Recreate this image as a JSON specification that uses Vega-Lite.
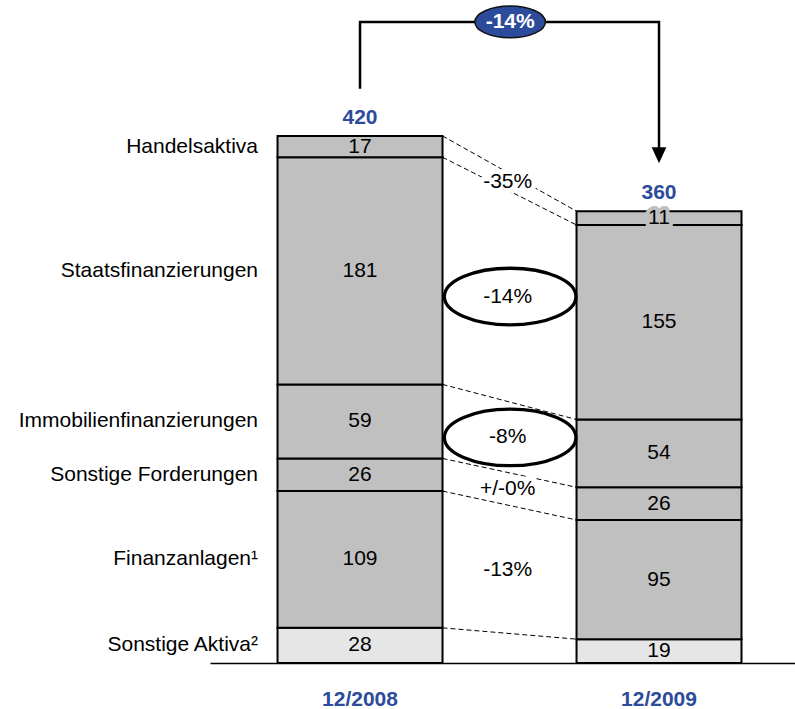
{
  "$schema": "https://vega.github.io/schema/vega-lite/v6.json",
  "width": 585,
  "height": 659,
  "autosize": {"type": "none"},
  "padding": {"left": 210, "top": 4, "right": 0, "bottom": 46},
  "background": "white",
  "config": {"view": {"stroke": null}, "font": "Liberation Sans", "text": {"font": "Liberation Sans", "fontSize": 21}},
  "datasets": {
    "bars": [
      {"cat": "Sonstige Aktiva²", "year": "12/2008", "value": 28, "order": 1, "change": ""},
      {"cat": "Finanzanlagen¹", "year": "12/2008", "value": 109, "order": 2, "change": "-13%"},
      {"cat": "Sonstige Forderungen", "year": "12/2008", "value": 26, "order": 3, "change": "+/-0%"},
      {"cat": "Immobilienfinanzierungen", "year": "12/2008", "value": 59, "order": 4, "change": "-8%"},
      {"cat": "Staatsfinanzierungen", "year": "12/2008", "value": 181, "order": 5, "change": "-14%"},
      {"cat": "Handelsaktiva", "year": "12/2008", "value": 17, "order": 6, "change": "-35%"},
      {"cat": "Sonstige Aktiva²", "year": "12/2009", "value": 19, "order": 1, "change": ""},
      {"cat": "Finanzanlagen¹", "year": "12/2009", "value": 95, "order": 2, "change": "-13%"},
      {"cat": "Sonstige Forderungen", "year": "12/2009", "value": 26, "order": 3, "change": "+/-0%"},
      {"cat": "Immobilienfinanzierungen", "year": "12/2009", "value": 54, "order": 4, "change": "-8%"},
      {"cat": "Staatsfinanzierungen", "year": "12/2009", "value": 155, "order": 5, "change": "-14%"},
      {"cat": "Handelsaktiva", "year": "12/2009", "value": 11, "order": 6, "change": "-35%"}
    ],
    "bracket": [
      {"year": "12/2008", "y": 457.6, "o": 1},
      {"year": "12/2008", "y": 510.8, "o": 2},
      {"year": "12/2009", "y": 510.8, "o": 3},
      {"year": "12/2009", "y": 404.5, "o": 4}
    ],
    "total": [{"label": "-14%", "y": 510.8}]
  },
  "layer": [
    {
      "data": {"name": "bars"},
      "transform": [
        {"stack": "value", "groupby": ["year"], "sort": [{"field": "order", "order": "ascending"}], "as": ["v0", "v1"]}
      ],
      "mark": {"type": "bar", "stroke": "black", "strokeWidth": 2},
      "encoding": {
        "x": {
          "field": "year", "type": "nominal",
          "scale": {"type": "band", "domain": ["12/2008", "12/2009"], "paddingInner": 0.4482, "paddingOuter": 0.2024, "align": 0.558, "round": false},
          "axis": {"title": null, "domain": true, "domainColor": "black", "domainWidth": 1.5, "ticks": false, "tickSize": 0, "labelPadding": 36, "labelBaseline": "middle", "labelFont": "Liberation Sans", "labelFontSize": 21, "labelFontWeight": "bold", "labelColor": "#2D4B9B", "labelAngle": 0, "grid": false}
        },
        "y": {"field": "v1", "type": "quantitative", "scale": {"domain": [0, 525.1], "nice": false, "zero": true}, "axis": null},
        "y2": {"field": "v0"},
        "fill": {
          "field": "cat", "type": "nominal",
          "scale": {"domain": ["Sonstige Aktiva²", "Finanzanlagen¹", "Sonstige Forderungen", "Immobilienfinanzierungen", "Staatsfinanzierungen", "Handelsaktiva"], "range": ["#E6E6E6", "#C0C0C0", "#C0C0C0", "#C0C0C0", "#C0C0C0", "#C0C0C0"]},
          "legend": null
        }
      }
    },
    {
      "data": {"name": "bars"},
      "transform": [
        {"stack": "value", "groupby": ["year"], "sort": [{"field": "order", "order": "ascending"}], "as": ["v0", "v1"]},
        {"pivot": "year", "value": "v1", "groupby": ["cat"]}
      ],
      "mark": {"type": "rule", "color": "black", "strokeWidth": 1, "strokeDash": [5, 3]},
      "encoding": {
        "x": {"datum": "12/2008", "type": "nominal", "bandPosition": 1},
        "x2": {"datum": "12/2009", "bandPosition": 0},
        "y": {"field": "12/2008", "type": "quantitative"},
        "y2": {"field": "12/2009"}
      }
    },
    {
      "data": {"name": "bars"},
      "transform": [
        {"stack": "value", "groupby": ["year"], "sort": [{"field": "order", "order": "ascending"}], "as": ["v0", "v1"]},
        {"fold": ["v0", "v1"], "as": ["k", "pos"]},
        {"aggregate": [{"op": "mean", "field": "pos", "as": "mid"}], "groupby": ["cat", "year", "value"]},
        {"filter": {"field": "cat", "equal": "Handelsaktiva"}},
        {"filter": {"field": "year", "equal": "12/2009"}}
      ],
      "mark": {"type": "text", "fontSize": 21, "baseline": "middle", "fill": "#C0C0C0", "stroke": "#C0C0C0", "strokeWidth": 8, "strokeJoin": "round"},
      "encoding": {
        "x": {"field": "year", "type": "nominal"},
        "y": {"field": "mid", "type": "quantitative"},
        "text": {"field": "value", "type": "quantitative"}
      }
    },
    {
      "data": {"name": "bars"},
      "transform": [
        {"stack": "value", "groupby": ["year"], "sort": [{"field": "order", "order": "ascending"}], "as": ["v0", "v1"]},
        {"fold": ["v0", "v1"], "as": ["k", "pos"]},
        {"aggregate": [{"op": "mean", "field": "pos", "as": "mid"}], "groupby": ["cat", "year", "value"]}
      ],
      "mark": {"type": "text", "fontSize": 21, "baseline": "middle", "color": "black"},
      "encoding": {
        "x": {"field": "year", "type": "nominal"},
        "y": {"field": "mid", "type": "quantitative"},
        "text": {"field": "value", "type": "quantitative"}
      }
    },
    {
      "data": {"name": "bars"},
      "transform": [
        {"stack": "value", "groupby": ["year"], "sort": [{"field": "order", "order": "ascending"}], "as": ["v0", "v1"]},
        {"fold": ["v0", "v1"], "as": ["k", "pos"]},
        {"aggregate": [{"op": "mean", "field": "pos", "as": "mid"}], "groupby": ["cat", "year"]},
        {"filter": {"field": "year", "equal": "12/2008"}}
      ],
      "mark": {"type": "text", "fontSize": 21, "baseline": "middle", "align": "right", "dx": -19.5, "color": "black"},
      "encoding": {
        "x": {"field": "year", "type": "nominal", "bandPosition": 0},
        "y": {"field": "mid", "type": "quantitative"},
        "text": {"field": "cat", "type": "nominal"}
      }
    },
    {
      "data": {"name": "bars"},
      "mark": {"type": "text", "fontSize": 21, "fontWeight": "bold", "baseline": "middle", "dy": -18, "color": "#2D4B9B"},
      "encoding": {
        "x": {"field": "year", "type": "nominal"},
        "y": {"aggregate": "sum", "field": "value", "type": "quantitative"},
        "text": {"aggregate": "sum", "field": "value", "type": "quantitative"}
      }
    },
    {
      "data": {"name": "bars"},
      "transform": [
        {"stack": "value", "groupby": ["year"], "sort": [{"field": "order", "order": "ascending"}], "as": ["v0", "v1"]},
        {"fold": ["v0", "v1"], "as": ["k", "pos"]},
        {"aggregate": [{"op": "mean", "field": "pos", "as": "mid"}], "groupby": ["cat", "change"]},
        {"filter": {"field": "cat", "oneOf": ["Staatsfinanzierungen", "Immobilienfinanzierungen"]}}
      ],
      "mark": {"type": "point", "shape": "M -1 0 C -1 -0.2375 -0.5523 -0.43 0 -0.43 C 0.5523 -0.43 1 -0.2375 1 0 C 1 0.2375 0.5523 0.43 0 0.43 C -0.5523 0.43 -1 0.2375 -1 0 Z", "size": 17319, "filled": true, "fill": "white", "stroke": "black", "strokeWidth": 3.3, "opacity": 1},
      "encoding": {
        "x": {"datum": "12/2008", "type": "nominal", "bandPosition": 1.41},
        "y": {"field": "mid", "type": "quantitative"}
      }
    },
    {
      "data": {"name": "bars"},
      "transform": [
        {"stack": "value", "groupby": ["year"], "sort": [{"field": "order", "order": "ascending"}], "as": ["v0", "v1"]},
        {"fold": ["v0", "v1"], "as": ["k", "pos"]},
        {"aggregate": [{"op": "mean", "field": "pos", "as": "mid"}], "groupby": ["cat", "change"]},
        {"filter": "datum.change != ''"}
      ],
      "mark": {"type": "text", "fontSize": 21, "baseline": "middle", "fill": "white", "stroke": "white", "strokeWidth": 10, "strokeJoin": "round"},
      "encoding": {
        "x": {"datum": "12/2008", "type": "nominal", "bandPosition": 1.395},
        "y": {"field": "mid", "type": "quantitative"},
        "text": {"field": "change", "type": "nominal"}
      }
    },
    {
      "data": {"name": "bars"},
      "transform": [
        {"stack": "value", "groupby": ["year"], "sort": [{"field": "order", "order": "ascending"}], "as": ["v0", "v1"]},
        {"fold": ["v0", "v1"], "as": ["k", "pos"]},
        {"aggregate": [{"op": "mean", "field": "pos", "as": "mid"}], "groupby": ["cat", "change"]},
        {"filter": "datum.change != ''"}
      ],
      "mark": {"type": "text", "fontSize": 21, "baseline": "middle", "color": "black"},
      "encoding": {
        "x": {"datum": "12/2008", "type": "nominal", "bandPosition": 1.395},
        "y": {"field": "mid", "type": "quantitative"},
        "text": {"field": "change", "type": "nominal"}
      }
    },
    {
      "data": {"name": "bracket"},
      "mark": {"type": "line", "color": "black", "strokeWidth": 2.5},
      "encoding": {
        "x": {"field": "year", "type": "nominal"},
        "y": {"field": "y", "type": "quantitative"},
        "order": {"field": "o", "type": "quantitative"}
      }
    },
    {
      "data": {"name": "bracket"},
      "transform": [{"filter": {"field": "o", "equal": 4}}],
      "mark": {"type": "point", "shape": "M -0.92 -1 L 0.92 -1 L 0 1 Z", "size": 256, "filled": true, "fill": "black", "strokeWidth": 0, "opacity": 1},
      "encoding": {
        "x": {"field": "year", "type": "nominal"},
        "y": {"field": "y", "type": "quantitative"}
      }
    },
    {
      "data": {"name": "total"},
      "mark": {"type": "point", "shape": "M -1 0 C -1 -0.2485 -0.5523 -0.45 0 -0.45 C 0.5523 -0.45 1 -0.2485 1 0 C 1 0.2485 0.5523 0.45 0 0.45 C -0.5523 0.45 -1 0.2485 -1 0 Z", "size": 4970, "filled": true, "fill": "#2D4B9B", "stroke": "#111111", "strokeWidth": 1.5, "opacity": 1},
      "encoding": {
        "x": {"datum": "12/2008", "type": "nominal", "bandPosition": 1.41},
        "y": {"field": "y", "type": "quantitative"}
      }
    },
    {
      "data": {"name": "total"},
      "mark": {"type": "text", "fontSize": 21, "fontWeight": "bold", "baseline": "middle", "color": "white"},
      "encoding": {
        "x": {"datum": "12/2008", "type": "nominal", "bandPosition": 1.41},
        "y": {"field": "y", "type": "quantitative"},
        "text": {"field": "label", "type": "nominal"}
      }
    }
  ]
}
